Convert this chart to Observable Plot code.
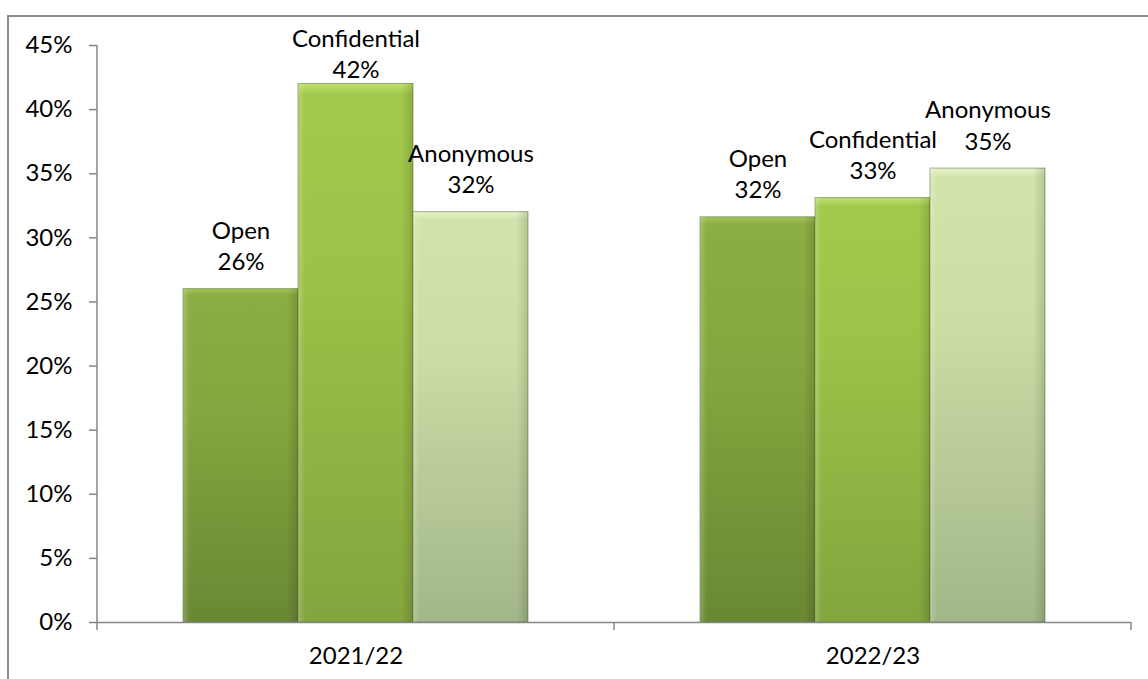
<!DOCTYPE html>
<html>
<head>
<meta charset="utf-8">
<script src="https://cdn.jsdelivr.net/npm/d3@7"></script>
<script src="https://cdn.jsdelivr.net/npm/@observablehq/plot@0.6"></script>
<style>
  html, body { margin: 0; padding: 0; background: #ffffff; }
  #wrap { position: relative; width: 1148px; height: 679px; overflow: hidden; }
  #border { position: absolute; left: 7px; top: 15px; width: 1300px; height: 800px;
            border-left: 2px solid #8c8c8c; border-top: 2px solid #8c8c8c; }
  #chart { position: absolute; left: 0; top: 0; }
</style>
</head>
<body>
<div id="wrap"><div id="border"></div><div id="chart"></div></div>
<script>
const years = ["2021/22", "2022/23"];
const types = ["Open", "Confidential", "Anonymous"];
const values2021 = [26, 42, 32];
const values2022 = [31.6, 33.1, 35.4];
const labels2021 = ["26%", "42%", "32%"];
const labels2022 = ["32%", "33%", "35%"];
const yTicks = [0, 5, 10, 15, 20, 25, 30, 35, 40, 45];
const typeColors = ["url(#gOpen)", "url(#gConf)", "url(#gAnon)"];

const data = [
  ...types.map((t, i) => ({year: years[0], type: t, value: values2021[i], label: labels2021[i]})),
  ...types.map((t, i) => ({year: years[1], type: t, value: values2022[i], label: labels2022[i]}))
];

const font = "Lato, 'Open Sans', sans-serif";
const fs = 24;
const axisGray = "#868686";
const labelCeiling = 41; // keep data labels inside the chart area, as the original does

const plot = Plot.plot({
  width: 1148,
  height: 679,
  marginLeft: 96,
  marginRight: 17,
  marginTop: 45,
  marginBottom: 57,
  style: {fontFamily: font, fontSize: fs + "px", color: "#000", background: "transparent"},
  fx: {domain: years, paddingInner: 0, paddingOuter: 0, label: null, axis: null},
  x: {domain: types, paddingInner: 0, paddingOuter: 0.74, axis: null},
  y: {domain: [0, 45], axis: null},
  color: {type: "ordinal", domain: types, range: typeColors},
  marks: [
    Plot.barY(data, {fx: "year", x: "type", y: "value", fill: "type",
      stroke: "#55702a", strokeWidth: 1, strokeOpacity: 0.55}),
    Plot.barY(data, {fx: "year", x: "type", y: "value", fill: "url(#hShade)"}),
    Plot.ruleY([0], {stroke: axisGray, strokeWidth: 1.5}),
    Plot.text(data, {fx: "year", x: "type", y: d => Math.min(d.value, labelCeiling),
      text: d => d.type + "\n" + d.label,
      lineAnchor: "bottom", lineHeight: 1.3, dy: -19, fontSize: fs, fill: "#000"}),
    Plot.axisY({ticks: yTicks, tickFormat: d => d + "%", tickSize: 8, tickPadding: 17, label: null,
      stroke: axisGray, strokeWidth: 1.5, fill: "#000", fontSize: fs}),
    Plot.axisFx({anchor: "bottom", tickSize: 0, tickPadding: 24, label: null, fontSize: fs, fill: "#000"})
  ]
});

// gradient definitions
const svg = d3.select(plot);
const defs = svg.insert("defs", ":first-child");
function vgrad(id, stops) {
  const g = defs.append("linearGradient").attr("id", id)
    .attr("x1", 0).attr("y1", 0).attr("x2", 0).attr("y2", 1);
  stops.forEach(([o, c]) => g.append("stop").attr("offset", o).attr("stop-color", c));
}
vgrad("gOpen", [[0, "#a6c45c"], [0.02, "#8cad42"], [0.35, "#86a73f"], [1, "#6a8833"]]);
vgrad("gConf", [[0, "#c0e070"], [0.02, "#a2c94c"], [0.35, "#9cc248"], [1, "#83a53e"]]);
vgrad("gAnon", [[0, "#e6f2cc"], [0.02, "#d2e4ab"], [0.35, "#cadda4"], [1, "#a3b689"]]);
const h = defs.append("linearGradient").attr("id", "hShade")
  .attr("x1", 0).attr("y1", 0).attr("x2", 1).attr("y2", 0);
[[0, "rgba(255,255,255,0.22)"], [0.06, "rgba(255,255,255,0.0)"], [0.9, "rgba(0,0,0,0)"], [1, "rgba(0,0,0,0.14)"]]
  .forEach(([o, c]) => h.append("stop").attr("offset", o).attr("stop-color", c));

// axis lines and category boundary ticks from the plot's own scales
const fx = plot.scale("fx");
const y = plot.scale("y");
const bounds = [...years.map(v => fx.apply(v)), fx.apply(years[years.length - 1]) + fx.bandwidth];
const g = svg.append("g").attr("stroke", axisGray).attr("stroke-width", 1.5);
g.append("line").attr("x1", bounds[0]).attr("x2", bounds[0])
  .attr("y1", y.apply(45)).attr("y2", y.apply(0) + 8);
bounds.slice(1).forEach(b => g.append("line").attr("x1", b).attr("x2", b)
  .attr("y1", y.apply(0)).attr("y2", y.apply(0) + 8));

document.getElementById("chart").appendChild(plot);
</script>
</body>
</html>
